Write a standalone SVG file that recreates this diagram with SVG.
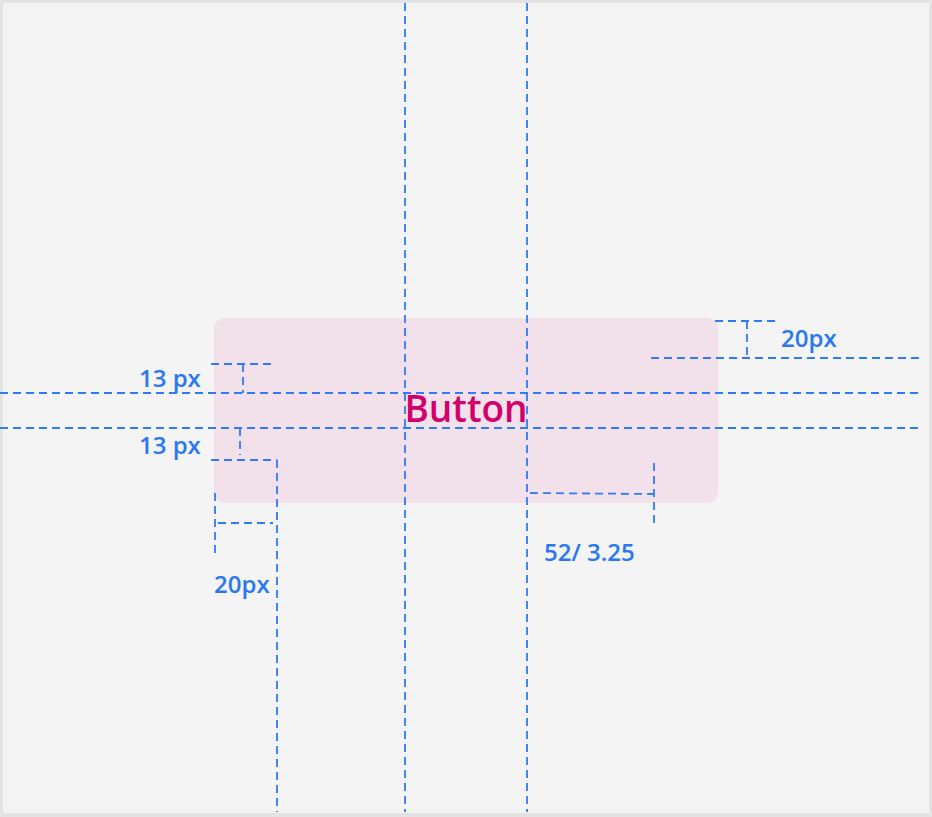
<svg xmlns="http://www.w3.org/2000/svg" width="932" height="817" viewBox="0 0 932 817">
<style>
.d{stroke:#2f7bf5;stroke-width:1.8;stroke-dasharray:8 5;fill:none}
.t{font-family:"Open Sans","Noto Sans",sans-serif;font-weight:600;font-size:24px;fill:#2a78f0}
</style>
<rect x="0" y="0" width="932" height="817" fill="#e3e3e3"/>
<rect x="3" y="3" width="926" height="810" fill="#f4f4f4"/>
<g id="button">
<rect x="214" y="318" width="504" height="185" rx="10" fill="#f2e0ea"/>
<text x="466" y="422" text-anchor="middle" font-family="'Open Sans','Noto Sans',sans-serif" font-weight="600" font-size="37" fill="#d1006c">Button</text>
</g>
<g id="guides">
<line class="d" x1="0" y1="393" x2="922" y2="393"/>
<line class="d" x1="0" y1="428" x2="922" y2="428"/>
<line class="d" x1="405" y1="3" x2="405" y2="812"/>
<line class="d" x1="527" y1="3" x2="527" y2="812"/>
<line class="d" x1="277" y1="460" x2="277" y2="812"/>
<line class="d" x1="211" y1="364" x2="272" y2="364"/>
<line class="d" x1="243" y1="364" x2="243" y2="393"/>
<line class="d" x1="240" y1="428" x2="240" y2="455"/>
<line class="d" x1="211" y1="460" x2="277" y2="460"/>
<line class="d" x1="215" y1="493" x2="215" y2="553"/>
<line class="d" x1="218" y1="523" x2="273" y2="523"/>
<line class="d" x1="715" y1="321" x2="776" y2="321"/>
<line class="d" x1="747" y1="321" x2="747" y2="357"/>
<line class="d" x1="651" y1="358" x2="922" y2="358"/>
<line class="d" x1="530" y1="493" x2="653" y2="494"/>
<line class="d" x1="654" y1="463" x2="654" y2="523"/>
</g>
<g id="labels">
<text class="t" x="139" y="387">13 px</text>
<text class="t" x="139" y="454">13 px</text>
<text class="t" x="214" y="593">20px</text>
<text class="t" x="781" y="347">20px</text>
<text class="t" x="544" y="561">52/ 3.25</text>
</g>
</svg>
